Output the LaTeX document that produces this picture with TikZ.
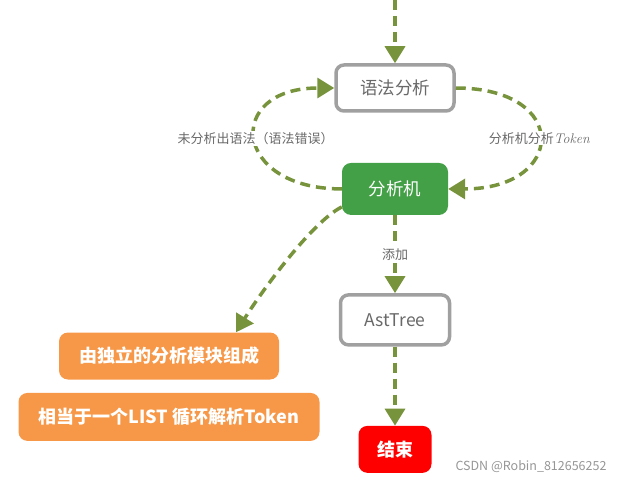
\documentclass[tikz,border=0pt]{standalone}
\usepackage{fontspec}
\newfontfamily\cjk{Noto Sans CJK SC}
\usetikzlibrary{
  arrows.meta,
  positioning
}
\definecolor{FlowGreen} {RGB}{119,147,60}
\definecolor{BoxGreen}  {RGB}{67,160,71}
\definecolor{BoxOrange} {RGB}{247,152,72}
\definecolor{BoxRed}    {RGB}{255,0,0}
\definecolor{FrameGray} {RGB}{160,160,160}
\definecolor{TextGray}  {RGB}{105,105,105}
\definecolor{MarkGray}  {RGB}{150,150,150}

\begin{document}
\begin{tikzpicture}[
  x=1pt, y=-1pt,
  graybox/.style={rectangle, rounded corners=8pt, draw=FrameGray,
                  line width=3.5pt, fill=white, text=TextGray,
                  font=\cjk\fontsize{17.5}{20}\selectfont},
  fillbox/.style={rectangle, rounded corners=9pt, text=white,
                  font=\cjk\bfseries\fontsize{18}{21}\selectfont},
  flow/.style={-{Triangle[length=17pt, width=20pt]}, line width=3.5pt,
               dash pattern=on 10pt off 6pt, color=FlowGreen},
  lbl/.style={font=\cjk\fontsize{13}{15}\selectfont, text=TextGray,
              fill=white, inner sep=1pt}
]
\useasboundingbox (0,0) rectangle (629,484);

\node[graybox, minimum width=118pt, minimum height=46pt] (yufa) at (395,88)
      {语法分析};
\node[fillbox, fill=BoxGreen, minimum width=106pt, minimum height=52pt,
      font=\cjk\fontsize{17.5}{20}\selectfont,
      below=50pt of yufa]                            (jixi) {分析机};
\node[graybox, minimum width=109pt, minimum height=50pt,
      below=78pt of jixi]                            (ast)
      {AstTree};
\node[fillbox, fill=BoxRed, minimum width=73pt, minimum height=47pt,
      below=79pt of ast]                             (endn) {结束};

\node[fillbox, fill=BoxOrange, minimum width=220pt, minimum height=47pt]
      (mod) at (169,356) {由独立的分析模块组成};
\node[fillbox, fill=BoxOrange, minimum width=301pt, minimum height=48pt,
      below=13pt of mod]                             (loop)
      {相当于一个LIST 循环解析Token};

\coordinate (entry) at (395,0);

\draw[flow] (entry) -- (yufa);
\draw[flow] (jixi.west) .. controls +(-110,0) and +(-110,0) .. (yufa.west)
            node[lbl, pos=0.5] {未分析出语法（语法错误）};
\draw[flow] (yufa.east) .. controls +(115,0) and +(118,0) .. (jixi.east)
            node[lbl, pos=0.5] {分析机分析{\rmfamily\itshape\fontsize{14}{16}\selectfont Token}};
\draw[flow] (jixi) -- node[lbl]{添加} (ast);
\draw[flow] (ast)  -- (endn);
\draw[flow] ([yshift=-18pt]jixi.west) .. controls +(-30,15) and +(25,-40)
            .. ([xshift=67pt]mod.north);

\node[font=\cjk\fontsize{12.5}{15}\selectfont, text=MarkGray] (mark)
      at (531,467) {CSDN @Robin\_812656252};

\end{tikzpicture}
\end{document}
